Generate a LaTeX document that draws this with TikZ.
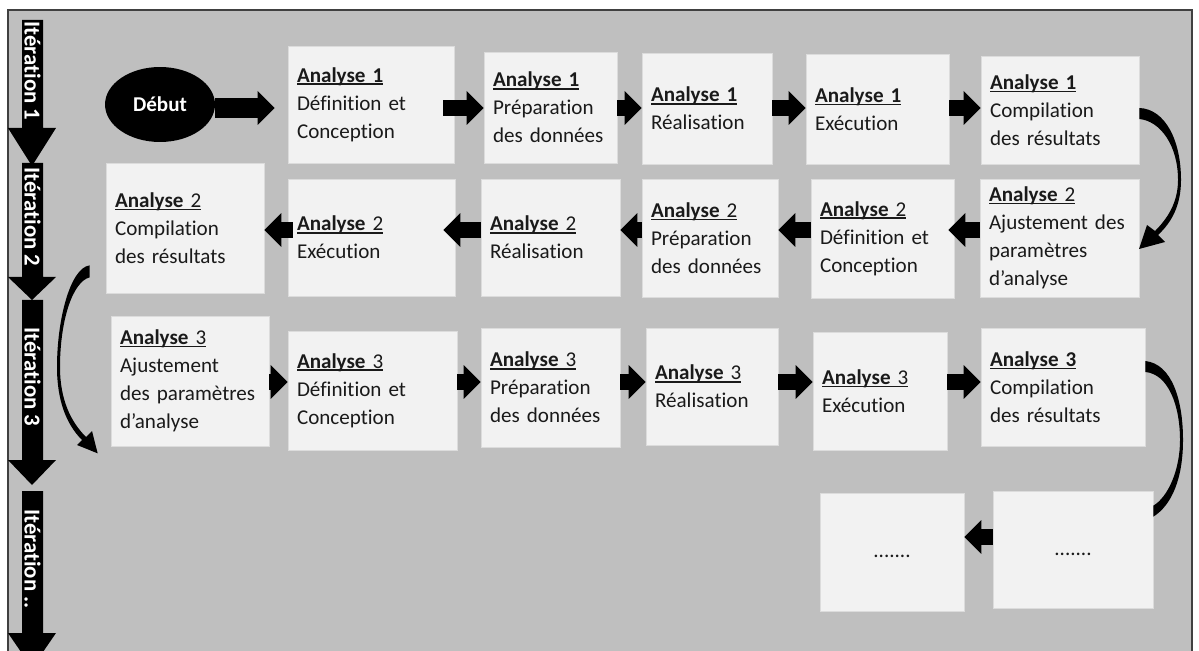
\documentclass[tikz,border=0pt]{standalone}
\usepackage{fontspec}
\setmainfont{Carlito}[Ligatures=NoCommon]
\usetikzlibrary{shapes.geometric,arrows.meta,calc}
\definecolor{fond}{HTML}{BFBFBF}
\definecolor{cadre}{HTML}{404040}
\definecolor{boite}{HTML}{F2F2F2}
\definecolor{bord}{HTML}{DCDCDC}
\definecolor{texte}{HTML}{1A1A1A}
\newsavebox\soulbox
\newcommand\souligne[1]{\sbox\soulbox{#1}\rlap{\rule[-1.6pt]{\wd\soulbox}{0.8pt}}\usebox\soulbox}

\begin{document}
\begin{tikzpicture}[x=0.02cm, y=-0.02cm,
  etape/.style 2 args={fill=boite, draw=bord, line width=0.4pt, text width=#1cm,
    minimum height=#2cm, inner xsep=0.18cm, inner ysep=0pt, align=left,
    text=texte, font=\fontsize{12}{16}\selectfont},
  fleche/.style={line width=0.32cm, -{Triangle[length=0.34cm, width=0.68cm, line width=0pt]}},
  iter/.style={text=white, font=\fontsize{13}{13}\selectfont\bfseries, rotate=-90, inner sep=0pt}]
\useasboundingbox (0,0) rectangle (1199,651);
\draw[cadre, fill=fond, line width=1.2pt] (8,10) rectangle (1192,690);

% iterations
\foreach \haut/\base/\bout/\txt [count=\i] in {20/128/166/Itération 1, 163/277/300/Itération 2, 300/460/485/Itération 3, 491/633/668/Itération ..}
{
\fill (22,\haut) -- (43,\haut) -- (43,\base) -- (56,\base) -- (32,\bout) -- (8,\base) -- (22,\base) -- cycle;
\node[iter] (iter\i) at (32.5,{(\haut+\base)/2-3}) {\txt};
}

% analyse 1
\node[ellipse, fill=black, text=white, minimum width=2.2cm, minimum height=1.5cm,
  font=\fontsize{12}{14}\selectfont\bfseries] (debut) at (160,104.5) {Début};
\node[etape={2.96}{2.34}] (a1def) at (371,104.5) {\souligne{\textbf{Analyse 1}}\\Définition et\\Conception};
\node[etape={2.30}{2.22}] (a1prep) at (550.5,107.5) {\souligne{\textbf{Analyse 1}}\\Préparation\\des données};
\node[etape={2.24}{2.22}] (a1real) at (707,108.5) {\souligne{\textbf{Analyse 1}}\\Réalisation};
\node[etape={2.50}{2.20}] (a1exec) at (877.5,109) {\souligne{\textbf{Analyse 1}}\\Exécution};
\node[etape={2.80}{2.16}] (a1comp) at (1060,110) {\souligne{\textbf{Analyse 1}}\\Compilation\\des résultats};

% analyse 2
\node[etape={2.82}{2.36}] (a2ajust) at (1059.5,238) {\souligne{\textbf{Analyse} 2}\\Ajustement des\\paramètres\\d’analyse};
\node[etape={2.50}{2.38}] (a2def) at (882.5,238.5) {\souligne{\textbf{Analyse} 2}\\Définition et\\Conception};
\node[etape={2.36}{2.36}] (a2prep) at (710,238) {\souligne{\textbf{Analyse} 2}\\Préparation\\des données};
\node[etape={2.42}{2.34}] (a2real) at (550.5,237.5) {\souligne{\textbf{Analyse} 2}\\Réalisation};
\node[etape={2.98}{2.34}] (a2exec) at (371.5,237.5) {\souligne{\textbf{Analyse} 2}\\Exécution};
\node[etape={2.80}{2.60}] (a2comp) at (185,228) {\souligne{\textbf{Analyse} 2}\\Compilation\\des résultats};

% analyse 3
\node[etape={2.80}{2.60}] (a3ajust) at (190,381) {\souligne{\textbf{Analyse} 3}\\Ajustement\\des paramètres\\d’analyse};
\node[etape={3.02}{2.38}] (a3def) at (372.5,390.5) {\souligne{\textbf{Analyse} 3}\\Définition et\\Conception};
\node[etape={2.42}{2.38}] (a3prep) at (550.5,387.5) {\souligne{\textbf{Analyse} 3}\\Préparation\\des données};
\node[etape={2.28}{2.34}] (a3real) at (712,386.5) {\souligne{\textbf{Analyse} 3}\\Réalisation};
\node[etape={2.32}{2.36}] (a3exec) at (880,391) {\souligne{\textbf{Analyse} 3}\\Exécution};
\node[etape={2.92}{2.36}] (a3comp) at (1063,387) {\souligne{\textbf{Analyse 3}}\\Compilation\\des résultats};

% suite
\node[etape={2.84}{2.34}, align=center] (suite1) at (1073,549.5) {\strut.......};
\node[etape={2.52}{2.36}, align=center] (suite2) at (892,552) {\strut.......};

\coordinate (y1) at (0,108);
\coordinate (y2) at (0,230);
\coordinate (y3) at (0,382);
\coordinate (y4) at (0,537);

\draw[fleche, line width=0.4cm, shorten >=0.26cm] (debut.east |- y1) -- (a1def.west |- y1);
\draw[fleche, shorten <=-0.22cm] (a1def.east |- y1) -- (a1prep.west |- y1);
\draw[fleche] (a1prep.east |- y1) -- (a1real.west |- y1);
\draw[fleche] (a1real.east |- y1) -- (a1exec.west |- y1);
\draw[fleche] (a1exec.east |- y1) -- (a1comp.west |- y1);

\draw[fleche, shorten >=-0.12cm] (a2ajust.west |- y2) -- (a2def.east |- y2);
\draw[fleche] (a2def.west |- y2) -- (a2prep.east |- y2);
\draw[fleche] (a2prep.west |- y2) -- (a2real.east |- y2);
\draw[fleche, shorten >=-0.24cm] (a2real.west |- y2) -- (a2exec.east |- y2);
\draw[fleche, shorten <=-0.1cm] (a2exec.west |- y2) -- (a2comp.east |- y2);

\draw[fleche] (a3ajust.east |- y3) -- (a3def.west |- y3);
\draw[fleche] (a3def.east |- y3) -- (a3prep.west |- y3);
\draw[fleche] (a3prep.east |- y3) -- (a3real.west |- y3);
\draw[fleche] (a3real.east |- y3) -- (a3exec.west |- y3);
\draw[fleche] (a3exec.east |- y3) -- (a3comp.west |- y3);

\draw[fleche] (suite1.west |- y4) -- (suite2.east |- y4);

% courbes
\fill ($(a1comp.east)+(0,-2)$) .. controls (1165,109) and (1181,140) .. (1181,180)
  .. controls (1181,205) and (1172,222) .. (1158,235)
  -- (1165,242) -- (1139,249) -- (1147,225) -- (1155,231)
  .. controls (1167,219) and (1178,203) .. (1178,180)
  .. controls (1178,145) and (1160,121) .. ($(a1comp.east)+(0,9)$) -- cycle;
\fill ($(a2comp.south west)+(-16,-28)$) .. controls (70,268) and (57,320) .. (57,367)
  .. controls (57,400) and (66,424) .. (82,440)
  -- (77,445) -- ($(a3ajust.south west)+(-13,7)$) -- (92,431) -- (86,437)
  .. controls (71,422) and (60,400) .. (60,367)
  .. controls (60,322) and (72,282) .. ($(a2comp.south west)+(-16,-16)$) -- cycle;
\fill ($(a3comp.east)+(0,-26)$) .. controls (1172,364) and (1183,400) .. (1183,440)
  .. controls (1183,478) and (1172,505) .. ($(suite1.north east)+(0,26)$)
  -- ($(suite1.north east)+(0,15)$) .. controls (1168,497) and (1180,470) .. (1180,440)
  .. controls (1180,405) and (1168,374) .. ($(a3comp.east)+(0,-15)$) -- cycle;
\end{tikzpicture}
\end{document}
